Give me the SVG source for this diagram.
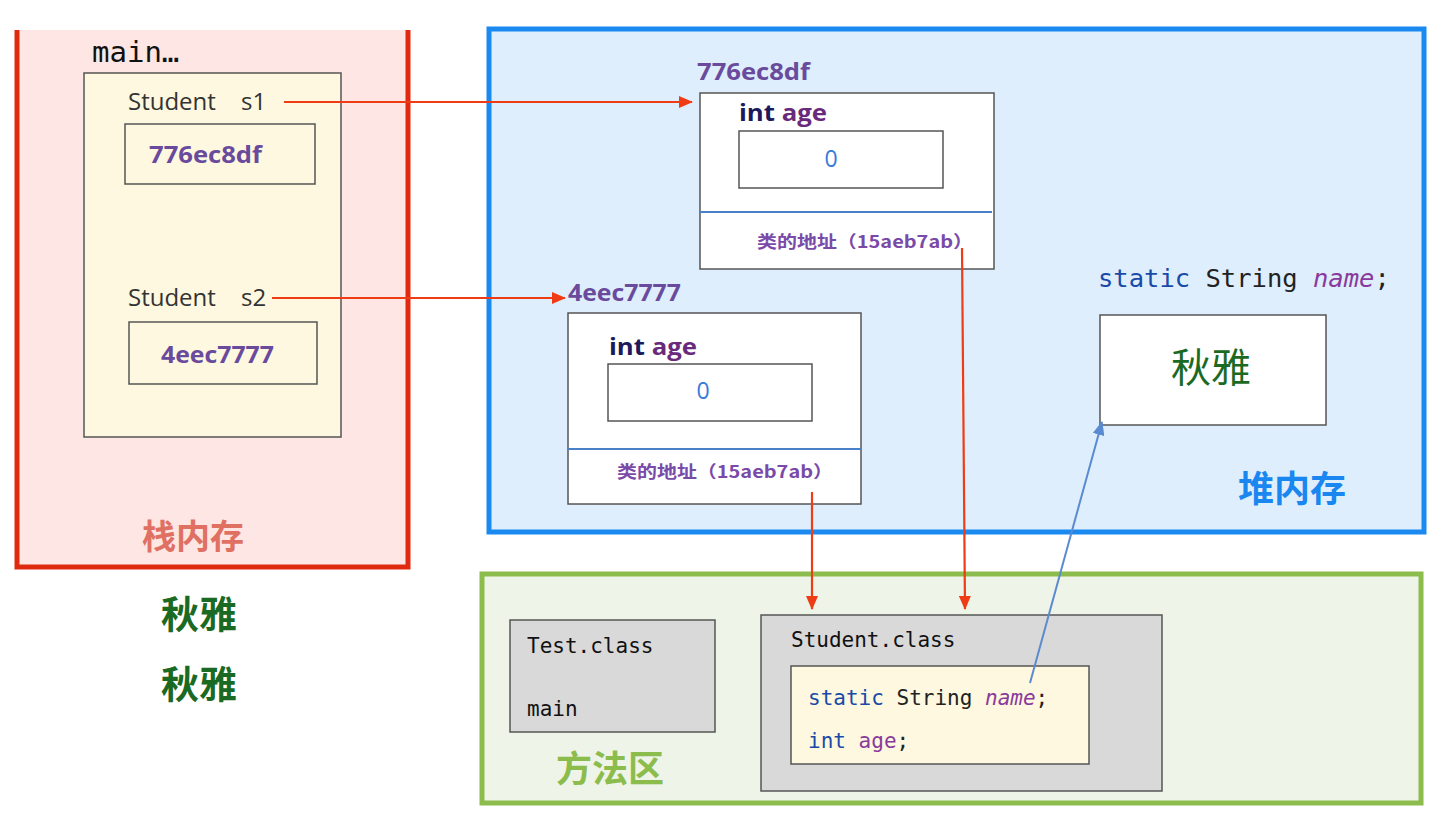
<svg xmlns="http://www.w3.org/2000/svg" width="1442" height="818" viewBox="0 0 1442 818">
<defs>
<style>
.sans{font-family:"Open Sans","Noto Sans","Noto Sans CJK SC",sans-serif}
.mono{font-family:"DejaVu Sans Mono","Liberation Mono",monospace}
.cjk{font-family:"Noto Sans CJK SC","Noto Sans",sans-serif}
.addr{font-family:"Open Sans","Noto Sans",sans-serif;font-weight:700;fill:#6a4a9c;font-size:23px}
.box{fill:#ffffff;stroke:#555;stroke-width:1.5}
.cream{fill:#fdf8df;stroke:#555;stroke-width:1.5}
.gray{fill:#d9d9d9;stroke:#555;stroke-width:1.5}
.red{stroke:#f03c14;stroke-width:2.2;fill:none}
.blue{stroke:#5a8ad0;stroke-width:2;fill:none}
.ty{fill:#222}
.var{fill:#8a3a9c;font-style:italic}
.cls{font-family:"DejaVu Sans Mono","Liberation Mono",monospace;font-size:21px;fill:#111}
.stu{font-family:"Open Sans","Noto Sans",sans-serif;font-size:24px;fill:#333}
</style>
<marker id="ar" viewBox="0 0 14 12" refX="13" refY="6" markerWidth="14" markerHeight="12" markerUnits="userSpaceOnUse" orient="auto">
<path d="M0,0 L14,6 L0,12 Z" fill="#f03c14"/>
</marker>
<marker id="ab" viewBox="0 0 14 12" refX="13" refY="6" markerWidth="14" markerHeight="12" markerUnits="userSpaceOnUse" orient="auto">
<path d="M0,0 L14,6 L0,12 Z" fill="#5a8ad0"/>
</marker>
</defs>
<rect width="1442" height="818" fill="#ffffff"/>

<g id="stack">
<rect x="17" y="30" width="391" height="537" fill="#fde6e3"/>
<path d="M17,30 V567 H408 V30" fill="none" stroke="#e02a10" stroke-width="5"/>
<text x="92" y="62" class="mono" font-size="29" fill="#111">main…</text>
<rect x="84" y="73" width="257" height="364" class="cream"/>
<text y="110" class="stu"><tspan x="128">Student</tspan><tspan x="241">s1</tspan></text>
<rect x="125" y="124" width="190" height="60" class="cream"/>
<text x="149" y="163" class="addr" textLength="113" lengthAdjust="spacingAndGlyphs">776ec8df</text>
<text y="306" class="stu"><tspan x="128">Student</tspan><tspan x="241">s2</tspan></text>
<rect x="129" y="322" width="188" height="62" class="cream"/>
<text x="161" y="363" class="addr" textLength="113" lengthAdjust="spacingAndGlyphs">4eec7777</text>
<text x="193" y="549" class="cjk" font-size="34" font-weight="700" fill="#e07062" text-anchor="middle">栈内存</text>
</g>

<g id="names">
<text x="199" y="628" class="cjk" font-size="38" font-weight="700" fill="#1b6a23" text-anchor="middle">秋雅</text>
<text x="199" y="698" class="cjk" font-size="38" font-weight="700" fill="#1b6a23" text-anchor="middle">秋雅</text>
</g>

<g id="heap">
<rect x="489" y="29" width="935" height="503" fill="#deeefc" stroke="#1a8af0" stroke-width="5"/>
<text x="1292" y="502" class="cjk" font-size="36" font-weight="700" fill="#1a86f0" text-anchor="middle">堆内存</text>
</g>

<g id="obj1">
<text x="697" y="80" class="addr" textLength="113" lengthAdjust="spacingAndGlyphs">776ec8df</text>
<rect x="700" y="93" width="294" height="176" class="box"/>
<line x1="699" y1="212" x2="992" y2="212" stroke="#4a80c8" stroke-width="2"/>
<text x="739" y="121" class="sans" font-size="23" font-weight="700" textLength="88" lengthAdjust="spacingAndGlyphs"><tspan fill="#1a1a5c">int</tspan> <tspan fill="#6a2a7c">age</tspan></text>
<rect x="739" y="131" width="204" height="57" class="box"/>
<text x="831" y="167" class="sans" font-size="23" fill="#3a7ad8" text-anchor="middle">0</text>
<text x="757" y="248" class="cjk" font-size="17" font-weight="700" fill="#7a4aa8" textLength="216" lengthAdjust="spacingAndGlyphs">类的地址（15aeb7ab）</text>
</g>

<g id="obj2">
<text x="568" y="301" class="addr" textLength="113" lengthAdjust="spacingAndGlyphs">4eec7777</text>
<rect x="568" y="313" width="293" height="191" class="box"/>
<line x1="568" y1="449" x2="861" y2="449" stroke="#4a80c8" stroke-width="2"/>
<text x="609" y="355" class="sans" font-size="23" font-weight="700" textLength="88" lengthAdjust="spacingAndGlyphs"><tspan fill="#1a1a5c">int</tspan> <tspan fill="#6a2a7c">age</tspan></text>
<rect x="608" y="364" width="204" height="57" class="box"/>
<text x="703" y="399" class="sans" font-size="23" fill="#3a7ad8" text-anchor="middle">0</text>
<text x="617" y="478" class="cjk" font-size="17" font-weight="700" fill="#7a4aa8" textLength="216" lengthAdjust="spacingAndGlyphs">类的地址（15aeb7ab）</text>
</g>

<g id="static-name">
<text x="1098" y="287" class="mono" font-size="25.5" xml:space="preserve"><tspan fill="#1a4aa8">static</tspan> <tspan class="ty">String</tspan> <tspan class="var">name</tspan><tspan class="ty">;</tspan></text>
<rect x="1100" y="315" width="226" height="110" class="box"/>
<text x="1211" y="382" class="cjk" font-size="40" fill="#1b6a23" text-anchor="middle">秋雅</text>
</g>

<g id="method">
<rect x="482" y="574" width="939" height="229" fill="#eef4e7" stroke="#8cbc4c" stroke-width="5"/>
<text x="610" y="782" class="cjk" font-size="36" font-weight="700" fill="#8cbc4c" text-anchor="middle">方法区</text>
</g>

<g id="test-class">
<rect x="510" y="620" width="205" height="112" class="gray"/>
<text x="527" y="653" class="cls">Test.class</text>
<text x="527" y="716" class="cls">main</text>
</g>

<g id="student-class">
<rect x="761" y="615" width="401" height="176" class="gray"/>
<text x="791" y="647" class="cls">Student.class</text>
<rect x="791" y="666" width="298" height="98" class="cream"/>
<text x="808" y="705" class="cls" xml:space="preserve"><tspan fill="#1a4aa8">static</tspan> <tspan fill="#222">String</tspan> <tspan class="var">name</tspan><tspan fill="#222">;</tspan></text>
<text x="808" y="748" class="cls" xml:space="preserve"><tspan fill="#1a4aa8">int</tspan> <tspan fill="#8a3a9c">age</tspan><tspan fill="#222">;</tspan></text>
</g>

<g id="connectors">
<line x1="284" y1="102" x2="692" y2="102" class="red" marker-end="url(#ar)"/>
<line x1="272" y1="298" x2="565" y2="298" class="red" marker-end="url(#ar)"/>
<line x1="962" y1="248" x2="965" y2="609" class="red" marker-end="url(#ar)"/>
<line x1="812" y1="492" x2="812" y2="609" class="red" marker-end="url(#ar)"/>
<line x1="1030" y1="683" x2="1102" y2="422" class="blue" marker-end="url(#ab)"/>
</g>
</svg>
